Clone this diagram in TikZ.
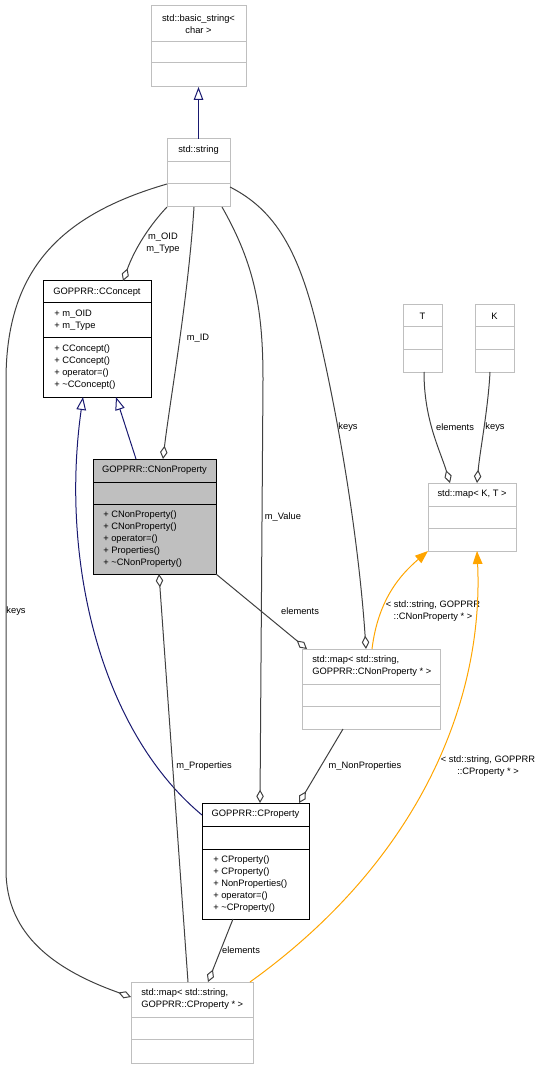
\documentclass[tikz,border=0pt]{standalone}
\usepackage{fontspec}
\setmainfont{Liberation Sans}
\usetikzlibrary{arrows.meta}
\definecolor{boxgray}{HTML}{BFBFBF}
\definecolor{nfill}{HTML}{BFBFBF}
\definecolor{edgegray}{HTML}{404040}
\definecolor{inhblue}{HTML}{191970}
\definecolor{tmplorange}{HTML}{FFA500}
\newcommand\umlbox[8]{%
  \node[#8, line width=0.75pt, inner sep=0pt, outer sep=0pt,
        minimum width={(#4-#2)*0.75pt}, minimum height={(#5-#3)*0.75pt}]
        (#1) at ({(#2+#4)/2},{(#3+#5)/2}) {};
  \draw[#8, line width=0.75pt] (#2,#6) -- (#4,#6) (#2,#7) -- (#4,#7);
}
\begin{document}
\begin{tikzpicture}[x=0.75pt,y=-0.75pt,
  every node/.style={font=\fontsize{7}{9}\selectfont, inner sep=0pt},
  lbl/.style={align=center, text=black},
  mem/.style={align=left, anchor=west},
  agg/.style={draw=edgegray, line width=0.75pt, -{Diamond[open, length=10pt, width=5.6pt]}},
  inh/.style={draw=inhblue, line width=0.75pt, -{Triangle[open, length=9.75pt, width=7.2pt]}},
  tmpl/.style={draw=tmplorange, line width=0.75pt, -{Triangle[length=9.75pt, width=7.2pt, fill=tmplorange]}}
]
\useasboundingbox (0,0) rectangle (540,1069);

% ---------- boxes ----------
\umlbox{bs}{151}{6}{246}{87}{42}{63}{draw=boxgray}
\node[lbl] (bs-t) at (198.5,24) {std::basic\_string\textless\\char \textgreater};

\umlbox{str}{167}{139}{230}{207}{162}{184}{draw=boxgray}
\node[lbl] (str-t) at (198.5,150.5) {std::string};

\umlbox{cc}{43}{281}{151}{397}{303}{338}{draw=black}
\node[lbl] (cc-t) at (97,292) {GOPPRR::CConcept};
\node[mem] (cc-a) at (54,320.5) {+ m\_OID\\+ m\_Type};
\node[mem] (cc-m) at (54,367.5) {+ CConcept()\\+ CConcept()\\+ operator=()\\+ \textasciitilde CConcept()};

\umlbox{cnp}{93}{459}{216}{574}{482}{504}{draw=black, fill=nfill}
\node[lbl] (cnp-t) at (154.5,470.5) {GOPPRR::CNonProperty};
\node[mem] (cnp-m) at (103,539) {+ CNonProperty()\\+ CNonProperty()\\+ operator=()\\+ Properties()\\+ \textasciitilde CNonProperty()};

\umlbox{cp}{202}{803}{309}{919}{826}{849}{draw=black}
\node[lbl] (cp-t) at (255.5,814.5) {GOPPRR::CProperty};
\node[mem] (cp-m) at (213,884) {+ CProperty()\\+ CProperty()\\+ NonProperties()\\+ operator=()\\+ \textasciitilde CProperty()};

\umlbox{tb}{403}{305}{442}{372}{327}{350}{draw=boxgray}
\node[lbl] (tb-t) at (422.5,316) {T};

\umlbox{kb}{475}{305}{514}{372}{327}{350}{draw=boxgray}
\node[lbl] (kb-t) at (494.5,316) {K};

\umlbox{mkt}{428}{483}{516}{551}{506}{528}{draw=boxgray}
\node[lbl] (mkt-t) at (472,494.5) {std::map\textless{} K, T \textgreater};

\umlbox{mnp}{302}{649}{440}{729}{684}{706}{draw=boxgray}
\node[mem] (mnp-t) at (312,666.5) {std::map\textless{} std::string,\\ GOPPRR::CNonProperty * \textgreater};

\umlbox{mp}{131}{982}{253}{1063}{1017}{1039}{draw=boxgray}
\node[mem] (mp-t) at (141,999.5) {std::map\textless{} std::string,\\ GOPPRR::CProperty * \textgreater};

% ---------- inheritance ----------
\draw[inh] (str.north) -- (bs.south);
\draw[inh] (cnp.north west |- 0,459) ++(43,0) coordinate (cnp-in) (cnp-in) -- (cc.south -| 116,0);
\draw[inh] (cp.west |- 0,815) .. controls (100,730) and (60,560) .. (cc.south -| 83,0);

% ---------- aggregations ----------
\draw[agg] (str.south west) .. controls (150,225) and (135,248) .. (cc.north -| 123,0);
\node[lbl] (l-oid) at (163,243) {m\_OID\\m\_Type};

\draw[agg] (str.south -| 194,0) .. controls (188,300) and (170,400) .. (cnp.north -| 163,0);
\node[lbl] (l-id) at (198,338) {m\_ID};

\draw[agg] (str.south -| 222,0) .. controls (255,265) and (263,310) .. (263,380) -- (cp.north -| 260,0);
\node[lbl] (l-val) at (283,517) {m\_Value};

\draw[agg] (str.east |- 0,187) .. controls (275,210) and (300,250) .. (320,340)
  .. controls (345,450) and (360,560) .. (mnp.north -| 366,0);
\node[lbl] (l-keys1) at (348,427) {keys};

\draw[agg] (str.west |- 0,184) .. controls (60,215) and (6,270) .. (6,380) -- (6,870)
  .. controls (6,935) and (55,970) .. (mp.west |- 0,997);
\node[lbl] (l-keys2) at (16,611) {keys};

\draw[agg] (cnp.south east) -- (mnp.north -| 307,0);
\node[lbl] (l-el1) at (300,611) {elements};

\draw[agg] (tb.south -| 424,0) .. controls (424,420) and (440,450) .. (mkt.north -| 450,0);
\node[lbl] (l-el2) at (455,427) {elements};

\draw[agg] (kb.south -| 490,0) .. controls (488,410) and (480,450) .. (mkt.north -| 477,0);
\node[lbl] (l-keys3) at (495,427) {keys};

\draw[agg] (mnp.south -| 343,0) -- (cp.north -| 299,0);
\node[lbl] (l-nonp) at (365,766) {m\_NonProperties};

\draw[agg] (mp.north -| 188,0) -- (cnp.south -| 159,0);
\node[lbl] (l-prop) at (204,766) {m\_Properties};

\draw[agg] (cp.south -| 233,0) -- (mp.north -| 208,0);
\node[lbl] (l-el3) at (241,950) {elements};

% ---------- template instantiation ----------
\draw[tmpl] (mnp.north -| 372,0) .. controls (378,600) and (400,575) .. (mkt.south west);
\node[lbl] (l-t1) at (433,611) {\textless{} std::string, GOPPRR\\::CNonProperty * \textgreater};

\draw[tmpl] (mp.north -| 250,0) .. controls (420,860) and (484,700) .. (mkt.south -| 477,0);
\node[lbl] (l-t2) at (488,766) {\textless{} std::string, GOPPRR\\::CProperty * \textgreater};
\end{tikzpicture}
\end{document}
